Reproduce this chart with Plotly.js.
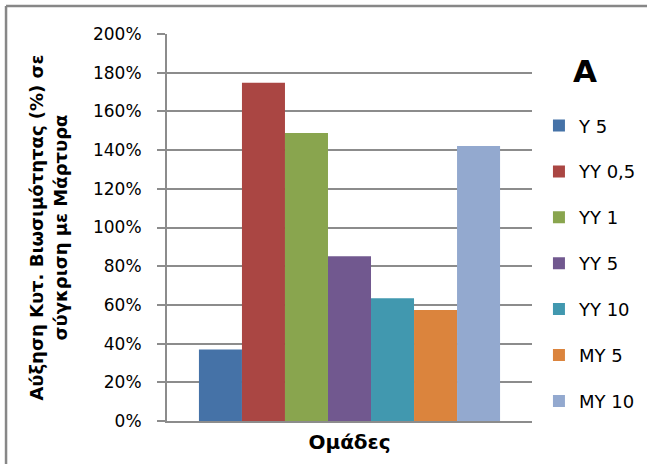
<!DOCTYPE html>
<html>
<head>
<meta charset="utf-8">
<script src="https://cdn.plot.ly/plotly-3.0.1.min.js"></script>
<style>
  html, body { margin: 0; padding: 0; background: #fff; }
  #chart { width: 647px; height: 464px; }
</style>
</head>
<body>
<div id="chart"></div>
<script>
// Cell viability increase (%) per treatment group, relative to control
const groups = ['Ομάδες'];
const seriesNames = ['Y 5', 'YY 0,5', 'YY 1', 'YY 5', 'YY 10', 'MY 5', 'MY 10'];
const seriesValues = [37.0, 174.8, 148.8, 85.2, 63.5, 57.3, 142.1];
const seriesColors = ['#4572A7', '#AA4643', '#89A54E', '#71588F', '#4198AF', '#DB843D', '#93A9CF'];
const yTickValues = [0, 20, 40, 60, 80, 100, 120, 140, 160, 180, 200];
const yTickLabels = ['0%', '20%', '40%', '60%', '80%', '100%', '120%', '140%', '160%', '180%', '200%'];

const traces = seriesNames.map((name, i) => ({
  type: 'bar',
  name: name,
  x: groups,
  y: [seriesValues[i]],
  marker: { color: seriesColors[i], line: { width: 0 } },
  legendgroup: 'g' + i,
  hoverinfo: 'name+y'
}));

const gridColor = '#8c8c8c';

const layout = {
  width: 647,
  height: 464,
  margin: { l: 167, r: 115, t: 34, b: 43 },
  paper_bgcolor: '#ffffff',
  plot_bgcolor: '#ffffff',
  font: { family: 'DejaVu Sans', color: '#000000' },
  barmode: 'group',
  bargap: 0.175,
  bargroupgap: 0,
  showlegend: true,
  legend: {
    xref: 'container', yref: 'container',
    x: 0.833, xanchor: 'left',
    y: 0.7688, yanchor: 'top',
    maxheight: 600,
    font: { family: 'DejaVu Sans', size: 18, color: '#000000' },
    tracegroupgap: 19.5,
    itemclick: false,
    bgcolor: 'rgba(0,0,0,0)'
  },
  xaxis: {
    type: 'category',
    showticklabels: false,
    ticks: '',
    showgrid: false,
    showline: true,
    linecolor: gridColor,
    linewidth: 2,
    zeroline: false,
    fixedrange: true,
    title: {
      text: 'Ομάδες',
      font: { family: 'DejaVu Sans', size: 20, weight: 700, color: '#000000' },
      standoff: 13
    },
    automargin: false
  },
  yaxis: {
    range: [0, 200],
    tickmode: 'array',
    tickvals: yTickValues,
    ticktext: yTickLabels,
    ticks: 'outside',
    ticklen: 8,
    tickwidth: 2,
    tickcolor: gridColor,
    ticklabelstandoff: 12,
    tickfont: { family: 'DejaVu Sans', size: 17, color: '#000000' },
    showgrid: true,
    gridcolor: gridColor,
    gridwidth: 2,
    showline: true,
    linecolor: gridColor,
    linewidth: 2,
    zeroline: false,
    fixedrange: true,
    title: {
      text: 'Αύξηση Κυτ. Βιωσιμότητας (%) σε<br>σύγκριση με Μάρτυρα',
      font: { family: 'DejaVu Sans', size: 18, weight: 700, color: '#000000' },
      standoff: 21
    },
    automargin: false
  },
  annotations: [{
    text: 'A',
    xref: 'paper', yref: 'paper',
    x: 1.144, y: 0.904,
    xanchor: 'center', yanchor: 'middle',
    showarrow: false,
    font: { family: 'DejaVu Sans', size: 31, weight: 700, color: '#000000' }
  }],
  shapes: [
    // chart frame: left and top edges
    { type: 'line', xref: 'paper', yref: 'paper', x0: -0.441, x1: -0.441, y0: -0.2, y1: 1.0724,
      line: { color: '#878787', width: 2.5 } },
    { type: 'line', xref: 'paper', yref: 'paper', x0: -0.441, x1: 1.5, y0: 1.0724, y1: 1.0724,
      line: { color: '#878787', width: 2.5 } }
  ]
};

Plotly.newPlot('chart', traces, layout, { displayModeBar: false, staticPlot: true });
</script>
</body>
</html>
